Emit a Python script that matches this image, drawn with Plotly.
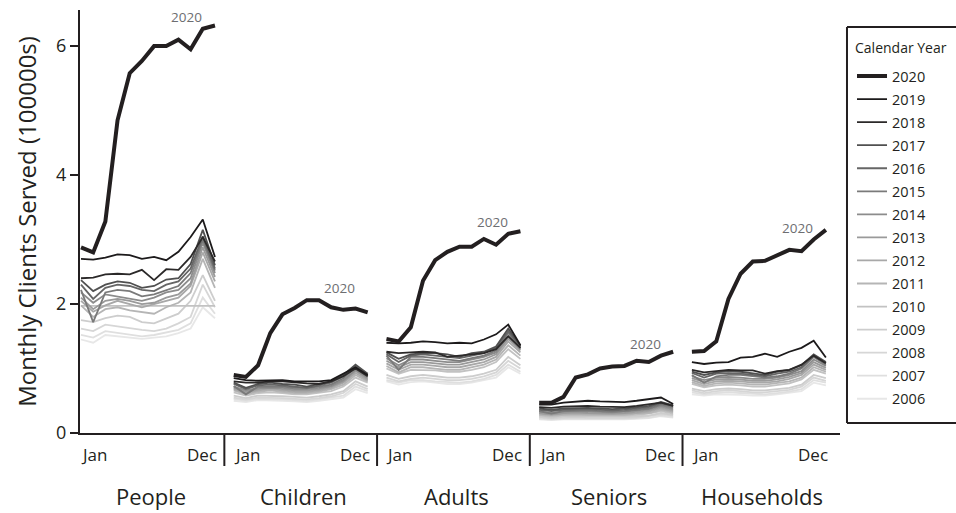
import plotly.graph_objects as go

# ---------------- data ----------------
MONTHS = ["Jan", "Feb", "Mar", "Apr", "May", "Jun",
          "Jul", "Aug", "Sep", "Oct", "Nov", "Dec"]
CATEGORIES = ["People", "Children", "Adults", "Seniors", "Households"]
YEARS = [2020, 2019, 2018, 2017, 2016, 2015, 2014, 2013,
         2012, 2011, 2010, 2009, 2008, 2007, 2006]
Y_TICKS = [0, 2, 4, 6]
Y_TITLE = "Monthly Clients Served (100000s)"
LEGEND_TITLE = "Calendar Year"

# rows follow YEARS (2020 first), columns follow MONTHS
PEOPLE = [
    [2.88, 2.80, 3.28, 4.85, 5.58, 5.77, 6.00, 6.00, 6.10, 5.95, 6.27, 6.32],
    [2.70, 2.69, 2.72, 2.77, 2.76, 2.70, 2.73, 2.68, 2.81, 3.04, 3.31, 2.73],
    [2.40, 2.41, 2.46, 2.47, 2.46, 2.53, 2.37, 2.54, 2.53, 2.73, 3.04, 2.66],
    [2.37, 2.20, 2.30, 2.35, 2.33, 2.25, 2.28, 2.38, 2.40, 2.62, 3.15, 2.60],
    [2.30, 2.08, 2.25, 2.30, 2.28, 2.22, 2.20, 2.30, 2.35, 2.55, 3.05, 2.55],
    [2.22, 1.72, 2.18, 2.22, 2.20, 2.12, 2.15, 2.22, 2.28, 2.48, 3.00, 2.52],
    [2.18, 2.02, 2.15, 2.12, 2.08, 2.05, 2.10, 2.18, 2.22, 2.40, 2.95, 2.48],
    [2.10, 1.92, 2.05, 2.08, 2.05, 2.00, 2.02, 2.10, 2.15, 2.32, 2.88, 2.42],
    [2.05, 1.88, 1.98, 2.05, 2.00, 1.95, 2.00, 2.05, 2.10, 2.28, 2.80, 2.35],
    [1.98, 1.80, 1.92, 1.95, 1.90, 1.88, 1.85, 1.95, 2.02, 2.18, 2.70, 2.25],
    [1.97, 1.97, 1.97, 1.97, 1.97, 1.97, 1.97, 1.97, 1.97, 1.97, 1.97, 1.97],
    [1.75, 1.72, 1.78, 1.82, 1.80, 1.72, 1.70, 1.78, 1.85, 2.05, 2.45, 2.05],
    [1.62, 1.58, 1.68, 1.65, 1.62, 1.60, 1.58, 1.62, 1.70, 1.80, 2.30, 1.95],
    [1.52, 1.48, 1.58, 1.55, 1.52, 1.50, 1.52, 1.56, 1.60, 1.70, 2.10, 1.85],
    [1.45, 1.40, 1.52, 1.50, 1.48, 1.46, 1.48, 1.50, 1.55, 1.62, 1.95, 1.78],
]
CHILDREN = [
    [0.90, 0.87, 1.05, 1.55, 1.84, 1.94, 2.06, 2.06, 1.95, 1.91, 1.93, 1.87],
    [0.85, 0.82, 0.81, 0.82, 0.82, 0.80, 0.80, 0.80, 0.82, 0.92, 1.02, 0.90],
    [0.80, 0.78, 0.78, 0.80, 0.80, 0.78, 0.77, 0.76, 0.80, 0.88, 1.00, 0.88],
    [0.78, 0.70, 0.76, 0.78, 0.76, 0.75, 0.72, 0.76, 0.80, 0.90, 1.06, 0.92],
    [0.76, 0.68, 0.74, 0.75, 0.74, 0.72, 0.70, 0.74, 0.78, 0.88, 1.04, 0.90],
    [0.73, 0.60, 0.72, 0.72, 0.72, 0.70, 0.70, 0.72, 0.75, 0.85, 1.02, 0.88],
    [0.72, 0.66, 0.70, 0.70, 0.70, 0.68, 0.68, 0.70, 0.73, 0.82, 0.98, 0.86],
    [0.70, 0.64, 0.68, 0.70, 0.68, 0.66, 0.66, 0.68, 0.72, 0.80, 0.96, 0.84],
    [0.68, 0.62, 0.66, 0.68, 0.66, 0.64, 0.64, 0.66, 0.70, 0.78, 0.93, 0.82],
    [0.66, 0.60, 0.64, 0.66, 0.64, 0.62, 0.62, 0.64, 0.68, 0.75, 0.90, 0.80],
    [0.63, 0.58, 0.62, 0.63, 0.62, 0.60, 0.60, 0.62, 0.65, 0.72, 0.86, 0.78],
    [0.58, 0.54, 0.58, 0.58, 0.57, 0.56, 0.55, 0.57, 0.60, 0.65, 0.80, 0.72],
    [0.55, 0.52, 0.55, 0.55, 0.54, 0.53, 0.52, 0.54, 0.57, 0.62, 0.76, 0.68],
    [0.53, 0.50, 0.53, 0.53, 0.52, 0.51, 0.50, 0.52, 0.55, 0.58, 0.72, 0.65],
    [0.50, 0.48, 0.51, 0.51, 0.50, 0.49, 0.48, 0.50, 0.52, 0.55, 0.68, 0.62],
]
ADULTS = [
    [1.46, 1.42, 1.64, 2.36, 2.68, 2.81, 2.89, 2.89, 3.01, 2.92, 3.09, 3.13],
    [1.40, 1.39, 1.40, 1.42, 1.41, 1.39, 1.40, 1.39, 1.45, 1.53, 1.68, 1.36],
    [1.26, 1.24, 1.25, 1.26, 1.25, 1.18, 1.20, 1.22, 1.24, 1.30, 1.50, 1.32],
    [1.25, 1.15, 1.22, 1.24, 1.24, 1.22, 1.18, 1.24, 1.26, 1.34, 1.62, 1.35],
    [1.22, 1.10, 1.20, 1.22, 1.20, 1.18, 1.16, 1.20, 1.24, 1.32, 1.58, 1.34],
    [1.20, 0.98, 1.18, 1.18, 1.16, 1.14, 1.12, 1.16, 1.20, 1.28, 1.55, 1.32],
    [1.16, 1.05, 1.14, 1.14, 1.12, 1.10, 1.10, 1.14, 1.18, 1.25, 1.50, 1.30],
    [1.12, 1.02, 1.10, 1.10, 1.08, 1.06, 1.06, 1.10, 1.14, 1.22, 1.46, 1.28],
    [1.08, 0.98, 1.06, 1.06, 1.04, 1.02, 1.02, 1.06, 1.10, 1.18, 1.42, 1.25],
    [1.04, 0.94, 1.02, 1.02, 1.00, 0.98, 0.98, 1.02, 1.06, 1.14, 1.36, 1.20],
    [1.00, 0.92, 0.98, 0.98, 0.97, 0.95, 0.95, 0.98, 1.02, 1.10, 1.30, 1.15],
    [0.90, 0.84, 0.88, 0.90, 0.88, 0.86, 0.86, 0.88, 0.92, 0.98, 1.18, 1.05],
    [0.86, 0.80, 0.84, 0.86, 0.84, 0.82, 0.82, 0.84, 0.88, 0.94, 1.12, 1.00],
    [0.82, 0.78, 0.82, 0.82, 0.80, 0.79, 0.78, 0.80, 0.84, 0.90, 1.06, 0.95],
    [0.80, 0.75, 0.79, 0.80, 0.78, 0.76, 0.76, 0.78, 0.82, 0.86, 1.02, 0.92],
]
SENIORS = [
    [0.47, 0.47, 0.56, 0.86, 0.91, 1.00, 1.03, 1.04, 1.12, 1.10, 1.20, 1.26],
    [0.44, 0.44, 0.47, 0.49, 0.50, 0.49, 0.49, 0.48, 0.50, 0.53, 0.55, 0.45],
    [0.40, 0.39, 0.41, 0.42, 0.42, 0.41, 0.40, 0.40, 0.42, 0.44, 0.47, 0.42],
    [0.38, 0.36, 0.38, 0.39, 0.39, 0.38, 0.37, 0.38, 0.40, 0.42, 0.48, 0.43],
    [0.36, 0.34, 0.36, 0.37, 0.37, 0.36, 0.35, 0.36, 0.38, 0.40, 0.46, 0.42],
    [0.34, 0.30, 0.34, 0.35, 0.35, 0.34, 0.33, 0.34, 0.36, 0.38, 0.44, 0.40],
    [0.33, 0.31, 0.33, 0.34, 0.33, 0.32, 0.32, 0.33, 0.35, 0.37, 0.42, 0.38],
    [0.31, 0.29, 0.31, 0.32, 0.31, 0.30, 0.30, 0.31, 0.33, 0.35, 0.40, 0.36],
    [0.30, 0.28, 0.30, 0.30, 0.30, 0.29, 0.29, 0.30, 0.31, 0.33, 0.38, 0.34],
    [0.28, 0.27, 0.28, 0.29, 0.28, 0.28, 0.27, 0.28, 0.30, 0.31, 0.36, 0.32],
    [0.27, 0.25, 0.27, 0.27, 0.27, 0.26, 0.26, 0.27, 0.28, 0.30, 0.34, 0.30],
    [0.25, 0.23, 0.25, 0.25, 0.25, 0.24, 0.24, 0.25, 0.26, 0.27, 0.31, 0.28],
    [0.24, 0.22, 0.23, 0.24, 0.23, 0.23, 0.22, 0.23, 0.24, 0.26, 0.29, 0.27],
    [0.22, 0.21, 0.22, 0.22, 0.22, 0.21, 0.21, 0.22, 0.23, 0.24, 0.27, 0.25],
    [0.21, 0.20, 0.21, 0.21, 0.21, 0.20, 0.20, 0.21, 0.22, 0.23, 0.26, 0.24],
]
HOUSEHOLDS = [
    [1.26, 1.27, 1.42, 2.08, 2.47, 2.66, 2.67, 2.75, 2.84, 2.82, 3.00, 3.15],
    [1.10, 1.07, 1.09, 1.10, 1.17, 1.18, 1.23, 1.18, 1.26, 1.32, 1.43, 1.17],
    [0.98, 0.94, 0.96, 0.98, 0.97, 0.97, 0.92, 0.96, 0.98, 1.06, 1.20, 1.08],
    [0.95, 0.90, 0.94, 0.96, 0.95, 0.93, 0.90, 0.95, 0.98, 1.05, 1.22, 1.10],
    [0.93, 0.86, 0.92, 0.93, 0.92, 0.90, 0.88, 0.92, 0.95, 1.02, 1.20, 1.08],
    [0.90, 0.78, 0.88, 0.90, 0.90, 0.88, 0.86, 0.88, 0.92, 1.00, 1.18, 1.06],
    [0.88, 0.82, 0.86, 0.87, 0.86, 0.84, 0.84, 0.86, 0.90, 0.96, 1.14, 1.04],
    [0.85, 0.79, 0.83, 0.84, 0.83, 0.81, 0.81, 0.83, 0.87, 0.93, 1.10, 1.01],
    [0.82, 0.76, 0.80, 0.81, 0.80, 0.78, 0.78, 0.80, 0.84, 0.90, 1.06, 0.98],
    [0.79, 0.73, 0.77, 0.78, 0.77, 0.75, 0.75, 0.77, 0.80, 0.86, 1.02, 0.95],
    [0.76, 0.71, 0.74, 0.75, 0.74, 0.72, 0.72, 0.74, 0.77, 0.83, 0.98, 0.92],
    [0.69, 0.65, 0.68, 0.69, 0.68, 0.66, 0.66, 0.68, 0.70, 0.75, 0.90, 0.85],
    [0.66, 0.62, 0.65, 0.66, 0.65, 0.63, 0.63, 0.65, 0.67, 0.72, 0.86, 0.81],
    [0.63, 0.60, 0.62, 0.63, 0.62, 0.61, 0.60, 0.62, 0.64, 0.68, 0.82, 0.78],
    [0.60, 0.58, 0.60, 0.60, 0.59, 0.58, 0.58, 0.60, 0.62, 0.65, 0.78, 0.74],
]
PANELS = [PEOPLE, CHILDREN, ADULTS, SENIORS, HOUSEHOLDS]

# ---------------- styles ----------------
COLORS = ["#231f20", "#1c1a1b", "#2b2929", "#505050", "#666666", "#7a7a7a",
          "#8c8c8c", "#9a9a9a", "#a8a8a8", "#b5b5b5", "#c2c2c2", "#cdcdcd",
          "#d6d6d6", "#dfdfdf", "#e7e7e7"]
INK = "#231f20"
FONT = "Open Sans"
PANEL_STEP = 12.54            # month units from one panel start to the next
X_RANGE = [-0.082, 62.32]
Y_RANGE = [0, 6.56]

fig = go.Figure()

n_m = len(MONTHS)
# lightest years first so darker ones sit on top
for yi in reversed(range(len(YEARS))):
    xs, ys = [], []
    for k, panel in enumerate(PANELS):
        for m in range(n_m):
            xs.append(k * PANEL_STEP + m)
            ys.append(panel[yi][m])
        xs.append(None)
        ys.append(None)
    fig.add_trace(go.Scatter(
        x=xs, y=ys, mode="lines", name=str(YEARS[yi]),
        legendgroup=str(YEARS[yi]), legendrank=yi + 1,
        line=dict(color=COLORS[yi], width=4 if yi == 0 else 1.8),
        hoverinfo="skip"))

shapes = []
annotations = []
for k, (cat, panel) in enumerate(zip(CATEGORIES, PANELS)):
    x0 = k * PANEL_STEP
    x1 = k * PANEL_STEP + n_m - 1
    annotations.append(dict(x=x0, y=-0.02, xref="x", yref="paper", text=MONTHS[0],
                            showarrow=False, xanchor="left", yanchor="top", xshift=-2,
                            font=dict(size=17, color=INK, family=FONT)))
    annotations.append(dict(x=x1, y=-0.02, xref="x", yref="paper", text=MONTHS[-1],
                            showarrow=False, xanchor="right", yanchor="top", xshift=4,
                            font=dict(size=17, color=INK, family=FONT)))
    annotations.append(dict(x=(x0 + x1) / 2, y=-0.108, xref="x", yref="paper", text=cat,
                            showarrow=False, xanchor="center", yanchor="top", xshift=3,
                            font=dict(size=22, color=INK, family=FONT)))
    top = max(panel[0][7:11])
    annotations.append(dict(x=x0 + 8.7, y=top, xref="x", yref="y", text=str(YEARS[0]),
                            showarrow=False, xanchor="center", yanchor="bottom", yshift=1,
                            font=dict(size=13.5, color="#6d6e71", family=FONT)))
    if k < len(CATEGORIES) - 1:
        xs = x1 + (PANEL_STEP - (n_m - 1)) / 2
        shapes.append(dict(type="line", xref="x", yref="paper", x0=xs, x1=xs,
                           y0=0, y1=-0.078, line=dict(color=INK, width=2)))

# legend frame: open on the right, where it runs off the edge in the original
FRAME_L, FRAME_R, FRAME_B, FRAME_T = 1.0092, 1.2, 0.0236, 0.9598
for (ax0, ay0, ax1, ay1) in [(FRAME_L, FRAME_B, FRAME_L, FRAME_T),
                             (FRAME_L, FRAME_T, FRAME_R, FRAME_T),
                             (FRAME_L, FRAME_B, FRAME_R, FRAME_B)]:
    shapes.append(dict(type="line", xref="paper", yref="paper",
                       x0=ax0, y0=ay0, x1=ax1, y1=ay1,
                       line=dict(color=INK, width=2)))
annotations.append(dict(x=1.0171, y=0.9125, xref="paper", yref="paper",
                        text=LEGEND_TITLE, showarrow=False, xanchor="left", yanchor="middle",
                        font=dict(size=14, color=INK, family=FONT)))

fig.update_layout(
    width=956, height=513,
    margin=dict(l=80, r=116, t=10, b=80),
    paper_bgcolor="white", plot_bgcolor="white",
    font=dict(family=FONT, color=INK),
    showlegend=True,
    legend=dict(
        x=1.0158, xanchor="left", y=0.8815, yanchor="top",
        bgcolor="rgba(0,0,0,0)", borderwidth=0,
        font=dict(size=14.5, color=INK, family=FONT),
        tracegroupgap=1.2, traceorder="grouped",
    ),
    xaxis=dict(range=X_RANGE, showgrid=False, zeroline=False, showticklabels=False,
               ticks="", showline=True, linecolor=INK, linewidth=2, fixedrange=True),
    yaxis=dict(range=Y_RANGE, tickvals=Y_TICKS, showgrid=False, zeroline=False,
               ticks="outside", ticklen=8, tickwidth=2, tickcolor=INK,
               showline=True, linecolor=INK, linewidth=2,
               tickfont=dict(size=18, color=INK, family=FONT),
               title=dict(text=Y_TITLE, font=dict(size=24, color=INK, family=FONT),
                          standoff=13)),
    shapes=shapes,
    annotations=annotations,
)

fig.write_html(
    "out.html",
    config={"displayModeBar": False},
    post_script="document.body.style.margin='0';document.body.style.overflow='hidden';",
)
